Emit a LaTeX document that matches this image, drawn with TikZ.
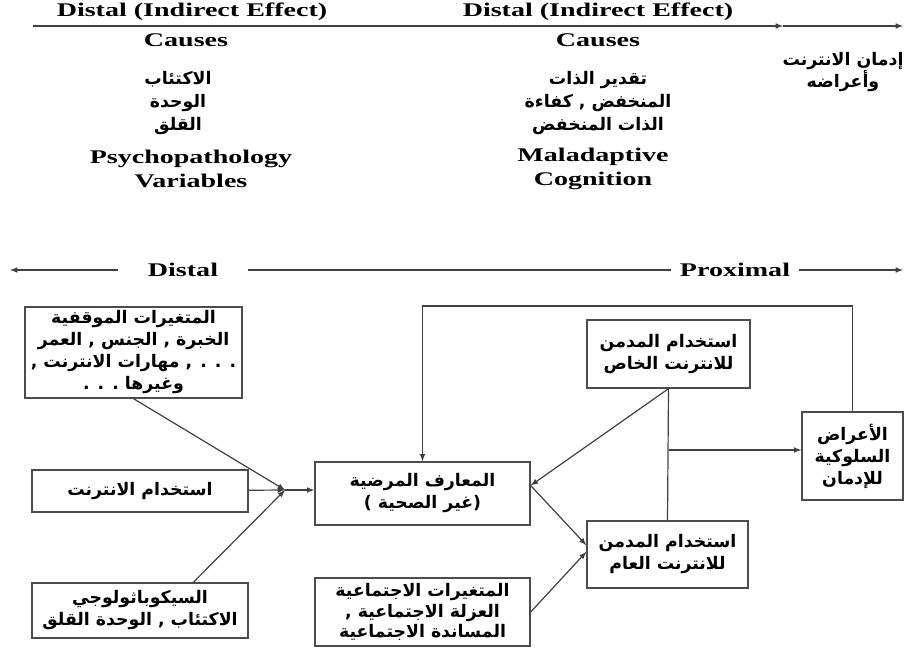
\documentclass[tikz,border=0pt]{standalone}
\usepackage{fontspec}
\setmainfont{Liberation Serif}
\newfontfamily\wideserif[FakeStretch=1.45]{Liberation Serif}
\newfontfamily\arabicfont[Script=Arabic]{DejaVu Sans}
\TeXXeTstate=1
\newcommand{\arline}[1]{\beginR #1\endR}
\tikzset{
  en/.style={font=\wideserif\bfseries\fontsize{14.5}{18}\selectfont, align=center, inner sep=0pt},
  ar/.style={font=\arabicfont\bfseries\fontsize{13}{16.5}\selectfont, align=center, inner sep=0pt},
  box/.style={ar, draw=black!70, line width=1pt},
}
\begin{document}
\begin{tikzpicture}[x=0.75pt, y=-0.75pt, line width=0.9pt, draw=black!75]
  \useasboundingbox (0,0) rectangle (906,649);
  % headings
  \draw
    (192,12) node[en] (dist1) {Distal (Indirect Effect)}
    (598,12) node[en] (dist2) {Distal (Indirect Effect)}
    (186,40) node[en] (cause1) {Causes}
    (598,40) node[en] (cause2) {Causes}
    (178,103) node[ar, font=\arabicfont\bfseries\fontsize{13}{17.25}\selectfont] (psyvar) {\arline{الاكتئاب}\\ \arline{الوحدة}\\ \arline{القلق}}
    (598,103) node[ar, font=\arabicfont\bfseries\fontsize{13}{17.25}\selectfont] (malcog) {\arline{تقدير الذات}\\ \arline{المنخفض , كفاءة}\\ \arline{الذات المنخفض}}
    (191,169) node[en] (psyen) {Psychopathology\\Variables}
    (593,169) node[en] (malen) {Maladaptive\\Cognition}
    (843,72) node[ar, font=\arabicfont\bfseries\fontsize{13}{14.25}\selectfont] (addict) {\arline{إدمان الانترنت}\\ \arline{وأعراضه}}
    (183,270) node[en, inner xsep=22pt] (distal) {Distal}
    (735,270) node[en, inner xsep=6pt] (proximal) {Proximal};
  \coordinate (tl) at (33,26);
  \coordinate (tm) at (783,26);
  \coordinate (tr) at (903,26);
  \coordinate (ml) at (10,270);
  \coordinate (mr) at (903,270);
  \coordinate (j) at (285,490);
  \coordinate (fb) at (0,306);
  % boxes
  \draw
    (133.5,352.5) node[box, minimum width=162.75pt, minimum height=68.25pt] (situ) {\arline{المتغيرات الموقفية}\\ \arline{الخبرة , الجنس , العمر}\\ \arline{. . . , مهارات الانترنت ,}\\ \arline{وغيرها . . .}}
    (140,491) node[box, minimum width=162pt, minimum height=31.5pt] (use) {\arline{استخدام الانترنت}}
    (140,610.5) node[box, minimum width=162pt, minimum height=41.25pt] (psy) {\arline{السيكوباثولوجي}\\ \arline{الاكتئاب , الوحدة القلق}}
    (422.5,493.5) node[box, minimum width=161.25pt, minimum height=47.25pt] (cog) {\arline{المعارف المرضية}\\ \arline{(غير الصحية )}}
    (422.5,612) node[box, minimum width=161.25pt, minimum height=51pt, font=\arabicfont\bfseries\fontsize{13}{15.5}\selectfont] (soc) {\arline{المتغيرات الاجتماعية}\\ \arline{العزلة الاجتماعية ,}\\ \arline{المساندة الاجتماعية}}
    (668.5,354) node[box, minimum width=122.25pt, minimum height=51pt] (spec) {\arline{استخدام المدمن}\\ \arline{للانترنت الخاص}}
    (667.5,554.5) node[box, minimum width=120.75pt, minimum height=50.25pt] (gen) {\arline{استخدام المدمن}\\ \arline{للانترنت العام}}
    (852.5,456) node[box, minimum width=75.75pt, minimum height=66pt] (symp) {\arline{الأعراض}\\ \arline{السلوكية}\\ \arline{للإدمان}};
  \coordinate (br) at (spec.south |- 0,450);
  \begin{scope}[-latex]
    \draw (tl) to (tm);
    \draw (tm) to (tr);
    \draw (distal) to (ml);
    \draw (proximal) to (mr);
    \draw (situ.south) to (j);
    \draw (use) to (j);
    \draw ([xshift=40pt]psy.north) to (j);
    \draw (j) to (cog.west |- j);
    \draw (symp.north) -- (symp.north |- fb) -| (cog.north);
    \draw (spec.south) to ([yshift=6pt]cog.east);
    \draw ([yshift=6pt]cog.east) to ([yshift=7pt]gen.west);
    \draw (soc.east) to ([yshift=2pt]gen.west);
    \draw (br) to (br -| symp.west);
  \end{scope}
  \draw (distal) to (proximal);
  \draw (spec.south) to (gen.north);
\end{tikzpicture}
\end{document}
